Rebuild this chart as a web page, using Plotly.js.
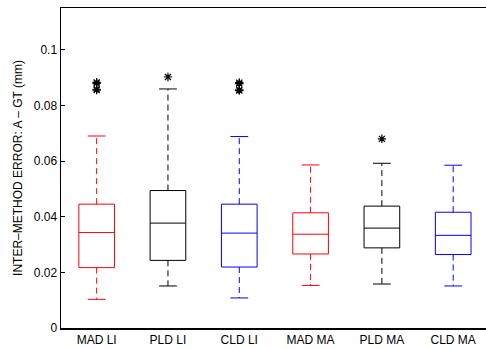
<!DOCTYPE html>
<html>
<head>
<meta charset="utf-8">
<script src="https://cdn.plot.ly/plotly-3.0.1.min.js"></script>
<style>html,body{margin:0;padding:0;background:#fff;}#chart{width:486px;height:349px;}</style>
</head>
<body>
<div id="chart"></div>
<script>
const categories = ['MAD LI', 'PLD LI', 'CLD LI', 'MAD MA', 'PLD MA', 'CLD MA'];
const q1 = [0.0217, 0.0243, 0.0219, 0.0266, 0.0288, 0.0264];
const medians = [0.0343, 0.0377, 0.0341, 0.0337, 0.0359, 0.0333];
const q3 = [0.0445, 0.0494, 0.0445, 0.0414, 0.0438, 0.0416];
const lowerWhisker = [0.0103, 0.0151, 0.0108, 0.0153, 0.0158, 0.0151];
const upperWhisker = [0.0690, 0.0859, 0.0688, 0.0586, 0.0592, 0.0585];
const outliers = [
  [0.0855, 0.0858, 0.0879, 0.0883],
  [0.0902],
  [0.0853, 0.0856, 0.0878, 0.0882],
  [],
  [0.0680],
  []
];
const colors = ['#ff0000', '#000000', '#0000ff', '#ff0000', '#000000', '#0000ff'];
const positions = categories.map((c, i) => i + 1);
const capHalf = 0.125;

const traces = [];
positions.forEach((p, i) => {
  traces.push({
    type: 'box', x: [p], q1: [q1[i]], median: [medians[i]], q3: [q3[i]],
    lowerfence: [q1[i]], upperfence: [q3[i]],
    width: 0.5, whiskerwidth: 0, boxpoints: false,
    fillcolor: 'rgba(0,0,0,0)', line: {color: colors[i], width: 1},
    showlegend: false, hoverinfo: 'skip'
  });
  traces.push({
    type: 'scatter', mode: 'lines',
    x: [p, p, null, p, p],
    y: [q3[i], upperWhisker[i], null, q1[i], lowerWhisker[i]],
    line: {color: colors[i], width: 1, dash: '6px,4px'},
    showlegend: false, hoverinfo: 'skip'
  });
  traces.push({
    type: 'scatter', mode: 'lines',
    x: [p - capHalf, p + capHalf, null, p - capHalf, p + capHalf],
    y: [upperWhisker[i], upperWhisker[i], null, lowerWhisker[i], lowerWhisker[i]],
    line: {color: colors[i], width: 1},
    showlegend: false, hoverinfo: 'skip'
  });
});
const ox = [], oy = [];
outliers.forEach((arr, i) => arr.forEach(v => { ox.push(positions[i]); oy.push(v); }));
traces.push({
  type: 'scatter', mode: 'markers', x: ox, y: oy,
  marker: {symbol: 'asterisk-open', size: 7, color: '#000', line: {color: '#000', width: 1.2}},
  showlegend: false, hoverinfo: 'skip'
});

const layout = {
  width: 486, height: 349,
  margin: {l: 61, r: 0, t: 8, b: 21},
  paper_bgcolor: '#fff', plot_bgcolor: '#fff',
  font: {family: 'Liberation Sans, Arial, sans-serif', size: 12, color: '#000'},
  xaxis: {
    range: [0.5, 6.46], tickvals: positions, ticktext: categories,
    ticks: '', showgrid: false, zeroline: false,
    showline: true, linecolor: '#000', linewidth: 1.5, mirror: true,
    tickfont: {size: 12}
  },
  yaxis: {
    range: [0, 0.115], tickvals: [0, 0.02, 0.04, 0.06, 0.08, 0.1],
    ticktext: ['0', '0.02', '0.04', '0.06', '0.08', '0.1'],
    ticks: 'inside', ticklen: 4, tickcolor: '#000',
    showgrid: false, zeroline: false,
    showline: true, linecolor: '#000', linewidth: 1.5,
    tickfont: {size: 12},
    title: {text: 'INTER\u2013METHOD ERROR: A \u2013 GT (mm)', font: {size: 12}, standoff: 8}
  }
};
Plotly.newPlot('chart', traces, layout, {staticPlot: true, displayModeBar: false});
</script>
</body>
</html>
